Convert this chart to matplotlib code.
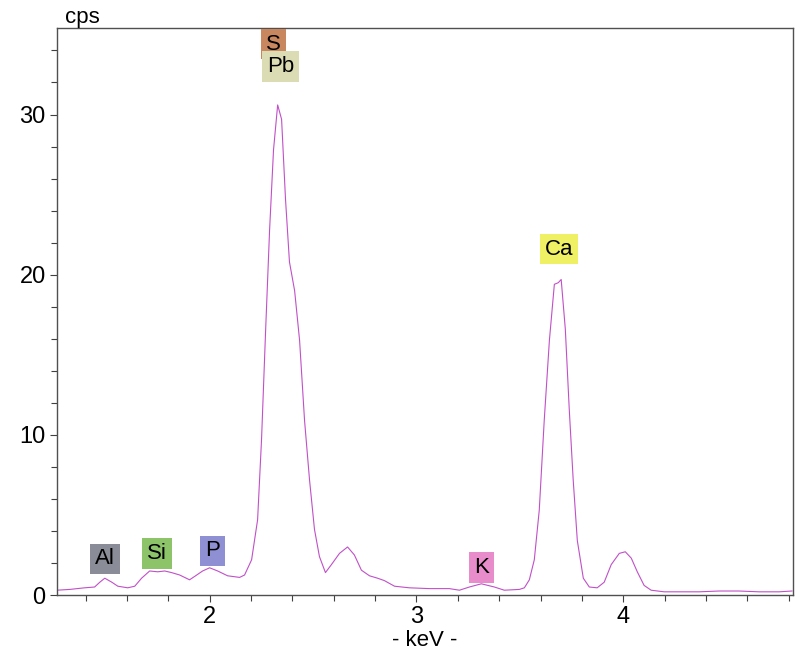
import matplotlib.pyplot as plt
from matplotlib.ticker import MultipleLocator

plt.rcParams['font.family'] = ['Liberation Sans', 'DejaVu Sans']

# spectrum
energy = [1.261, 1.324, 1.396, 1.444, 1.469, 1.493, 1.527, 1.556, 1.604, 1.638,
          1.671, 1.710, 1.749, 1.783, 1.816, 1.855, 1.903, 1.932, 1.966, 2.000,
          2.039, 2.087, 2.145, 2.169, 2.203, 2.232, 2.251, 2.271, 2.290, 2.309,
          2.329, 2.348, 2.367, 2.386, 2.411, 2.435, 2.459, 2.483, 2.507, 2.531,
          2.560, 2.589, 2.628, 2.667, 2.700, 2.734, 2.773, 2.812, 2.845, 2.894,
          2.966, 3.063, 3.159, 3.208, 3.256, 3.314, 3.377, 3.425, 3.498, 3.522,
          3.546, 3.570, 3.594, 3.618, 3.643, 3.667, 3.686, 3.700, 3.720, 3.739,
          3.758, 3.778, 3.807, 3.836, 3.874, 3.908, 3.942, 3.981, 4.010, 4.039,
          4.068, 4.101, 4.135, 4.198, 4.367, 4.464, 4.560, 4.657, 4.754, 4.816]
counts = [0.30, 0.35, 0.45, 0.50, 0.80, 1.05, 0.80, 0.55, 0.45, 0.55,
          1.05, 1.50, 1.45, 1.50, 1.40, 1.25, 0.95, 1.20, 1.50, 1.70,
          1.50, 1.20, 1.10, 1.25, 2.20, 4.70, 9.70, 16.6, 22.8, 27.8,
          30.6, 29.7, 24.7, 20.8, 19.0, 15.9, 10.9, 7.20, 4.10, 2.40,
          1.40, 1.90, 2.60, 3.00, 2.50, 1.55, 1.20, 1.05, 0.90, 0.55,
          0.45, 0.40, 0.40, 0.30, 0.50, 0.70, 0.50, 0.30, 0.35, 0.45,
          0.95, 2.20, 5.30, 10.9, 15.9, 19.4, 19.5, 19.7, 16.6, 11.6,
          7.20, 3.40, 1.05, 0.50, 0.45, 0.80, 1.90, 2.60, 2.70, 2.30,
          1.45, 0.60, 0.30, 0.20, 0.20, 0.25, 0.25, 0.20, 0.20, 0.25]

# element markers
elements = ['Al', 'Si', 'P', 'S', 'Pb', 'Ca', 'K']
label_x = [1.493, 1.744, 2.015, 2.309, 2.343, 3.691, 3.314]
label_y = [2.25, 2.6, 2.75, 34.4, 33.0, 21.6, 1.7]
label_colors = ['#8a8d98', '#8dc46a', '#8f8fd4', '#c8875e', '#dcdcb4', '#f0f064', '#e88ccb']

fig = plt.figure(figsize=(8, 6.52), dpi=100)
ax = fig.add_axes([0.071, 0.0874, 0.92, 0.8696])

ax.plot(energy, counts, color='#c050c8', lw=0.8)

for name, x, y, c in zip(elements, label_x, label_y, label_colors):
    ax.text(x, y, name, ha='center', va='center', fontsize=16, color='black',
            bbox=dict(boxstyle='square,pad=0.22', fc=c, ec='none'))

ax.set_xlim(1.261, 4.82)
ax.set_ylim(0, 35.4)
ax.xaxis.set_major_locator(MultipleLocator(1))
ax.xaxis.set_minor_locator(MultipleLocator(0.2))
ax.yaxis.set_major_locator(MultipleLocator(10))
ax.yaxis.set_minor_locator(MultipleLocator(2))
ax.tick_params(which='major', length=5, width=0.8, color='#404040', labelsize=17, pad=3)
ax.tick_params(which='minor', length=4, width=0.8, color='#404040')
for s in ax.spines.values():
    s.set_color('#505050')
    s.set_linewidth(1.0)

fig.text(0.081, 0.973, 'cps', fontsize=16, va='center', ha='left')
fig.text(0.531, 0.018, '- keV -', fontsize=16, va='center', ha='center')

fig.savefig('out.png', dpi=100)
